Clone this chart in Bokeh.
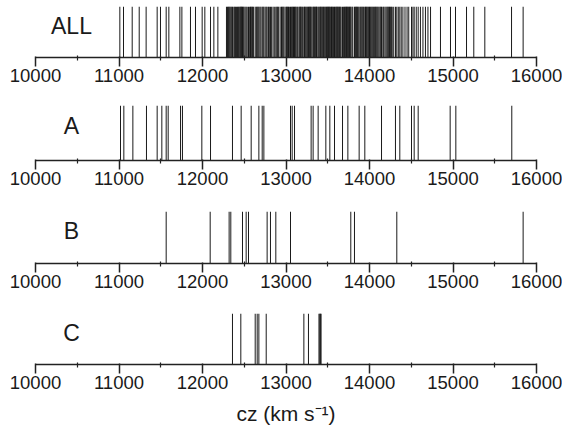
from bokeh.plotting import figure
from bokeh.layouts import column
from bokeh.models import Range1d, FixedTicker, Label
from bokeh.embed import file_html
from bokeh.resources import INLINE

# ---- data (cz in km/s) ----
cz_all = [11010, 11054, 11158, 11242, 11325, 11457, 11497, 11565, 11597, 11729,
          11753, 11856, 11916, 11996, 12028, 12096, 12136, 12184,
          12287, 12300, 12310, 12319, 12328, 12339, 12350, 12359, 12375, 12385,
          12396, 12408, 12420, 12430, 12440, 12450, 12459, 12463, 12470, 12479,
          12488, 12497, 12510, 12523, 12535, 12551, 12565, 12575, 12583, 12592,
          12600, 12612, 12631, 12645, 12655, 12665, 12675, 12688, 12700, 12715,
          12725, 12735, 12750, 12763, 12774, 12790, 12800, 12814, 12828, 12845,
          12860, 12878, 12890, 12900, 12912, 12930, 12946, 12955, 12965, 12975,
          12990, 13005, 13012, 13020, 13030, 13040, 13054, 13064, 13074, 13082,
          13090, 13102, 13110, 13118, 13130, 13140, 13155, 13165, 13172, 13180,
          13190, 13200, 13214, 13222, 13230, 13240, 13250, 13260, 13269, 13278,
          13285, 13292, 13301, 13312, 13325, 13332, 13340, 13350, 13358, 13365,
          13372, 13385, 13395, 13405, 13415, 13420, 13430, 13440, 13448, 13458,
          13468, 13477, 13486, 13495, 13502, 13510, 13518, 13525, 13535, 13545,
          13552, 13560, 13570, 13581, 13590, 13600, 13608, 13615, 13624, 13632,
          13642, 13650, 13660, 13677, 13690, 13700, 13710, 13718, 13725, 13734,
          13741, 13750, 13760, 13768, 13776, 13790, 13800, 13820, 13830, 13838,
          13846, 13855, 13865, 13876, 13890, 13900, 13910, 13920, 13930, 13944,
          13952, 13962, 13970, 13980, 13990, 14000, 14010, 14020, 14030, 14040,
          14050, 14062, 14070, 14080, 14090, 14100, 14112, 14125, 14135, 14144,
          14160, 14170, 14185, 14198, 14210, 14220, 14230, 14240, 14250, 14262,
          14272, 14290, 14311, 14327, 14345, 14363, 14380, 14400, 14425, 14450,
          14470, 14503, 14520, 14535, 14560, 14583, 14610, 14640, 14670, 14700,
          14731, 14850, 14970, 15030, 15162, 15249, 15381, 15701, 15840]
cz_a = [11018, 11058, 11166, 11329, 11457, 11513, 11565, 11589, 11737, 11760,
        11992, 12096, 12359, 12463, 12583, 12675, 12715, 12735,
        13054, 13074, 13102, 13301, 13325, 13385, 13477, 13525, 13581, 13677,
        13741, 13876, 13944, 14144, 14311, 14363, 14503, 14535, 14583, 14966,
        15034, 15704]
cz_b = [11565, 12092, 12319, 12339, 12479, 12523, 12551, 12774, 12814, 12878,
        13054, 13776, 13820, 14327, 15840]
cz_c = [12359, 12459, 12631, 12655, 12675, 12763, 13214, 13269, 13395, 13405,
        13412, 13420]

panel_names = ["ALL", "A", "B", "C"]
panel_data = [cz_all, cz_a, cz_b, cz_c]
major_ticks = [10000, 11000, 12000, 13000, 14000, 15000, 16000]
minor_ticks = [10500, 11500, 12500, 13500, 14500, 15500]
x_min, x_max = 10000, 16000
axis_title = "cz (km s\u207b\u00b9)"

# layout: (border top, frame height, border bottom) per panel
geom = [(6, 51, 47), (1, 55, 46), (5, 52, 46), (4, 51, 78)]

FONT = "Liberation Sans"
figs = []
for i, (name, vals) in enumerate(zip(panel_names, panel_data)):
    top, fh, bot = geom[i]
    p = figure(width=562, height=top + fh + bot, output_backend="svg",
               toolbar_location=None, y_axis_location=None,
               x_range=Range1d(x_min, x_max), y_range=Range1d(0, 1),
               min_border_left=35, min_border_right=26,
               min_border_top=top, min_border_bottom=bot)
    p.outline_line_color = None
    p.grid.visible = False
    p.background_fill_color = "white"
    p.border_fill_color = "white"

    p.segment(x0=vals, y0=[0] * len(vals), x1=vals, y1=[1] * len(vals),
              line_color="#1a1a1a", line_width=1)

    ax = p.xaxis[0]
    ax.ticker = FixedTicker(ticks=major_ticks, minor_ticks=minor_ticks)
    ax.axis_line_color = "#222222"
    ax.axis_line_width = 1.5
    ax.major_tick_line_color = "#222222"
    ax.major_tick_line_width = 1.5
    ax.major_tick_out = 9
    ax.major_tick_in = 1
    ax.minor_tick_line_color = "#222222"
    ax.minor_tick_line_width = 1.2
    ax.minor_tick_out = 3
    ax.minor_tick_in = 2
    ax.major_label_text_font = FONT
    ax.major_label_text_font_size = "18.5px"
    ax.major_label_text_color = "#1a1a1a"
    ax.major_label_standoff = 2
    if i == len(panel_names) - 1:
        ax.axis_label = axis_title
        ax.axis_label_text_font = FONT
        ax.axis_label_text_font_size = "21px"
        ax.axis_label_text_font_style = "normal"
        ax.axis_label_text_color = "#1a1a1a"
        ax.axis_label_standoff = 10

    p.add_layout(Label(x=10431, y=0.62, text=name, text_align="center",
                       text_baseline="middle", text_font=FONT,
                       text_font_size="23px", text_color="#1a1a1a"))
    figs.append(p)

layout = column(*figs, spacing=0)
open("out.html", "w").write(file_html(layout, INLINE))
